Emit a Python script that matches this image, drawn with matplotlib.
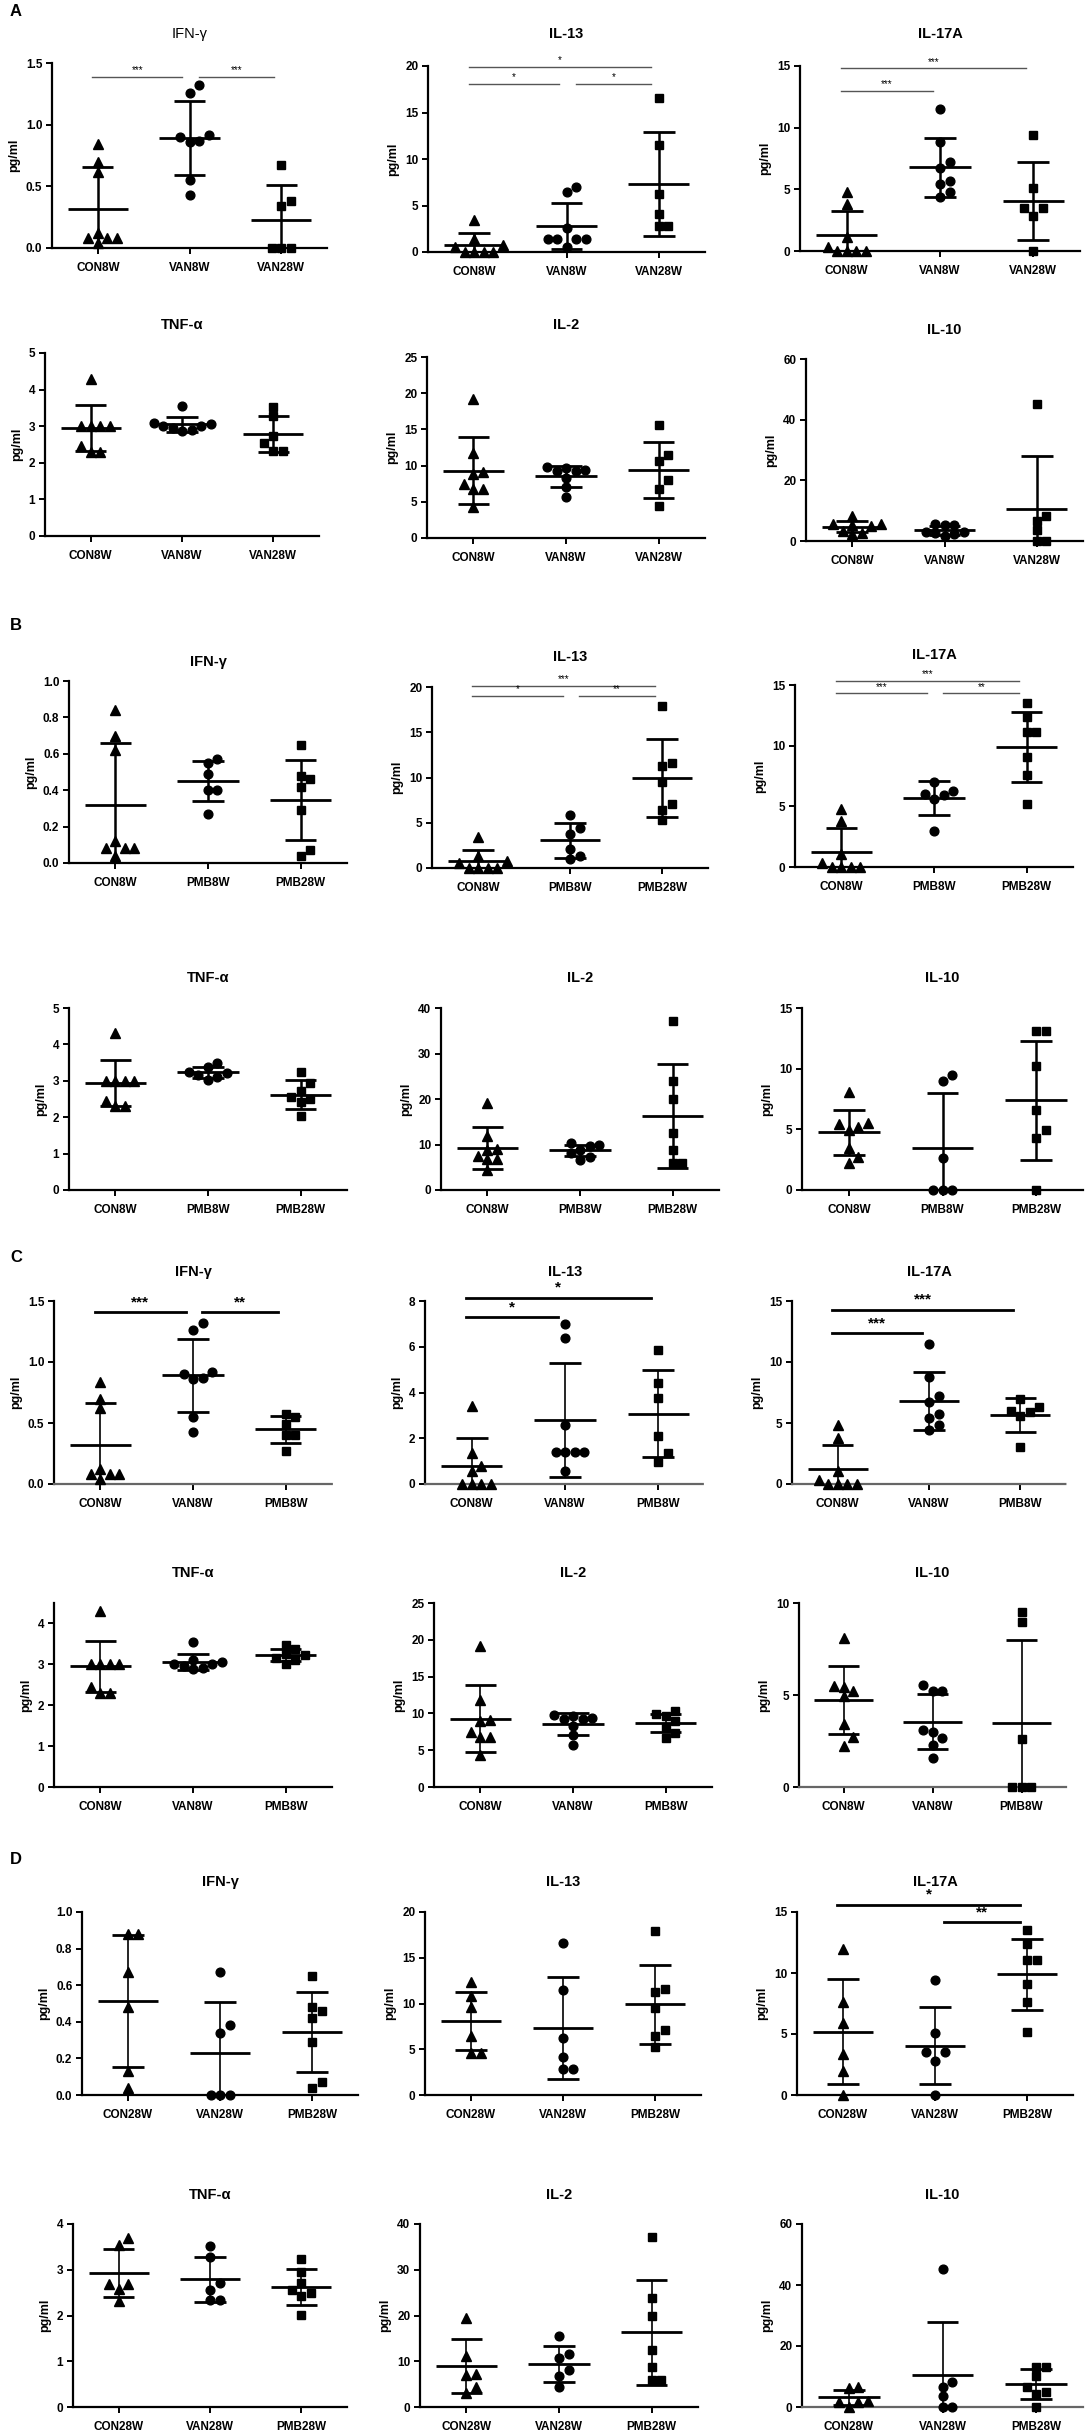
import numpy as np
import matplotlib.pyplot as plt
from matplotlib.ticker import FormatStrFormatter

plt.rcParams['font.family'] = ['Liberation Sans', 'DejaVu Sans']

W, H = 1089, 2436

cytokines = ['IFN-γ', 'IL-13', 'IL-17A', 'TNF-α', 'IL-2', 'IL-10']

# ---- individual values ----
ifng = {
    'CON8W': [0.84, 0.70, 0.62, 0.12, 0.08, 0.04, 0.08, 0.08],
    'VAN8W': [1.32, 1.26, 0.90, 0.92, 0.86, 0.87, 0.55, 0.43],
    'VAN28W': [0.67, 0.38, 0.34, 0.0, 0.0, 0.0],
    'PMB8W': [0.57, 0.55, 0.49, 0.40, 0.40, 0.27],
    'PMB28W': [0.65, 0.48, 0.46, 0.42, 0.29, 0.07, 0.04],
    'CON28W': [0.88, 0.88, 0.67, 0.48, 0.13, 0.04],
}
il13 = {
    'CON8W': [3.4, 1.35, 0.8, 0.55, 0.0, 0.0, 0.0, 0.0],
    'VAN8W': [7.0, 6.4, 2.6, 1.4, 1.4, 1.4, 1.4, 0.55],
    'VAN28W': [16.6, 11.5, 6.2, 4.1, 2.8, 2.8],
    'PMB8W': [5.85, 4.4, 3.75, 2.1, 1.35, 0.97],
    'PMB28W': [17.9, 11.6, 11.3, 9.5, 7.1, 6.4, 5.3],
    'CON28W': [12.3, 10.8, 9.6, 6.4, 4.6, 4.6],
}
il17a = {
    'CON8W': [4.8, 3.8, 1.1, 0.3, 0.0, 0.0, 0.0, 0.0],
    'VAN8W': [11.5, 8.8, 7.2, 6.7, 5.7, 5.4, 4.8, 4.4],
    'VAN28W': [9.4, 5.1, 3.5, 3.5, 2.8, 0.0],
    'PMB8W': [7.0, 6.3, 6.0, 5.9, 5.6, 3.0],
    'PMB28W': [13.5, 12.4, 11.1, 11.1, 9.1, 7.6, 5.2],
    'CON28W': [12.0, 7.6, 5.9, 3.4, 2.0, 0.0],
}
tnfa = {
    'CON8W': [4.3, 3.0, 3.0, 3.0, 3.0, 2.45, 2.3, 2.3],
    'VAN8W': [3.55, 3.1, 3.05, 3.0, 3.0, 2.95, 2.9, 2.88],
    'VAN28W': [3.52, 3.28, 2.72, 2.55, 2.33, 2.33],
    'PMB8W': [3.48, 3.38, 3.25, 3.22, 3.15, 3.1, 3.02],
    'PMB28W': [3.24, 2.95, 2.72, 2.55, 2.5, 2.42, 2.02],
    'CON28W': [3.7, 3.55, 2.69, 2.69, 2.58, 2.32],
}
il2 = {
    'CON8W': [19.2, 11.8, 9.1, 8.9, 7.5, 6.8, 6.8, 4.3],
    'VAN8W': [9.8, 9.6, 9.4, 9.3, 9.2, 8.3, 7.0, 5.7],
    'VAN28W': [15.6, 11.5, 10.7, 8.0, 6.8, 4.4],
    'PMB8W': [10.3, 9.9, 9.6, 8.9, 8.2, 7.3, 6.6],
    'PMB28W': [37.1, 23.9, 19.9, 12.5, 8.8, 6.0, 6.0],
    'CON28W': [19.5, 11.1, 7.3, 7.1, 4.4, 3.1],
}
il10 = {
    'CON8W': [8.1, 5.5, 5.45, 5.2, 4.95, 3.45, 2.7, 2.25],
    'VAN8W': [5.55, 5.2, 5.2, 3.1, 3.0, 2.65, 2.3, 1.55],
    'VAN28W': [45.2, 8.1, 6.6, 3.5, 0.0, 0.0],
    'PMB8W': [9.5, 8.95, 2.6, 0.0, 0.0, 0.0],
    'PMB28W': [13.1, 13.1, 10.2, 6.6, 4.95, 4.25, 0.0],
    'CON28W': [6.5, 6.2, 2.0, 1.8, 1.5, 0.0],
}

# ---- mean and SD as drawn ----
ifng_mean = {'CON8W': 0.32, 'VAN8W': 0.89, 'VAN28W': 0.23, 'PMB8W': 0.45, 'PMB28W': 0.345, 'CON28W': 0.515}
ifng_sd = {'CON8W': 0.34, 'VAN8W': 0.30, 'VAN28W': 0.28, 'PMB8W': 0.11, 'PMB28W': 0.22, 'CON28W': 0.36}
il13_mean = {'CON8W': 0.8, 'VAN8W': 2.8, 'VAN28W': 7.3, 'PMB8W': 3.08, 'PMB28W': 9.9, 'CON28W': 8.1}
il13_sd = {'CON8W': 1.2, 'VAN8W': 2.5, 'VAN28W': 5.6, 'PMB8W': 1.92, 'PMB28W': 4.3, 'CON28W': 3.2}
il17a_mean = {'CON8W': 1.27, 'VAN8W': 6.8, 'VAN28W': 4.05, 'PMB8W': 5.65, 'PMB28W': 9.9, 'CON28W': 5.2}
il17a_sd = {'CON8W': 1.95, 'VAN8W': 2.4, 'VAN28W': 3.15, 'PMB8W': 1.4, 'PMB28W': 2.9, 'CON28W': 4.3}
tnfa_mean = {'CON8W': 2.95, 'VAN8W': 3.05, 'VAN28W': 2.79, 'PMB8W': 3.23, 'PMB28W': 2.62, 'CON28W': 2.93}
tnfa_sd = {'CON8W': 0.63, 'VAN8W': 0.2, 'VAN28W': 0.49, 'PMB8W': 0.14, 'PMB28W': 0.39, 'CON28W': 0.53}
il2_mean = {'CON8W': 9.3, 'VAN8W': 8.5, 'VAN28W': 9.4, 'PMB8W': 8.7, 'PMB28W': 16.3, 'CON28W': 9.0}
il2_sd = {'CON8W': 4.6, 'VAN8W': 1.5, 'VAN28W': 3.9, 'PMB8W': 1.2, 'PMB28W': 11.5, 'CON28W': 5.9}
il10_mean = {'CON8W': 4.75, 'VAN8W': 3.55, 'VAN28W': 10.5, 'PMB8W': 3.5, 'PMB28W': 7.4, 'CON28W': 3.2}
il10_sd = {'CON8W': 1.85, 'VAN8W': 1.5, 'VAN28W': 17.5, 'PMB8W': 4.5, 'PMB28W': 4.9, 'CON28W': 2.5}

values = [ifng, il13, il17a, tnfa, il2, il10]
means = [ifng_mean, il13_mean, il17a_mean, tnfa_mean, il2_mean, il10_mean]
sds = [ifng_sd, il13_sd, il17a_sd, tnfa_sd, il2_sd, il10_sd]

panel_letters = ['A', 'B', 'C', 'D']
panel_groups = {
    'A': ['CON8W', 'VAN8W', 'VAN28W'],
    'B': ['CON8W', 'PMB8W', 'PMB28W'],
    'C': ['CON8W', 'VAN8W', 'PMB8W'],
    'D': ['CON28W', 'VAN28W', 'PMB28W'],
}
# (top of y axis, tick step) per cytokine
panel_yaxis = {
    'A': [(1.5, 0.5), (20, 5), (15, 5), (5, 1), (25, 5), (60, 20)],
    'B': [(1.0, 0.2), (20, 5), (15, 5), (5, 1), (40, 10), (15, 5)],
    'C': [(1.5, 0.5), (8, 2), (15, 5), (4.5, 1), (25, 5), (10, 5)],
    'D': [(1.0, 0.2), (20, 5), (15, 5), (4, 1), (40, 10), (60, 20)],
}
# significance brackets: cytokine index -> (group i, group j, height, label)
panel_sig = {
    'A': {0: [(0, 1, 1.39, '***'), (1, 2, 1.39, '***')],
          1: [(0, 2, 19.9, '*'), (0, 1, 18.1, '*'), (1, 2, 18.1, '*')],
          2: [(0, 2, 14.8, '***'), (0, 1, 13.0, '***')]},
    'B': {1: [(0, 2, 20.1, '***'), (0, 1, 19.0, '*'), (1, 2, 19.0, '**')],
          2: [(0, 2, 15.3, '***'), (0, 1, 14.3, '***'), (1, 2, 14.3, '**')]},
    'C': {0: [(0, 1, 1.41, '***'), (1, 2, 1.41, '**')],
          1: [(0, 2, 8.15, '*'), (0, 1, 7.3, '*')],
          2: [(0, 2, 14.3, '***'), (0, 1, 12.4, '***')]},
    'D': {2: [(0, 2, 15.6, '*'), (1, 2, 14.2, '**')]},
}

# ---- layout in pixels: (left, right, top, zero line) ----
panel_boxes = {
    'A': [(52, 327, 63, 248), (428, 705, 66, 252), (800, 1080, 66, 251),
          (45, 319, 353, 536), (427, 705, 357, 538), (806, 1083, 359, 541)],
    'B': [(69, 347, 681, 863), (432, 708, 687, 868), (795, 1073, 685, 867),
          (69, 347, 1008, 1190), (441, 719, 1008, 1190), (802, 1083, 1008, 1190)],
    'C': [(54, 332, 1301, 1484), (425, 705, 1301, 1484), (792, 1066, 1301, 1484),
          (54, 332, 1603, 1787), (434, 712, 1603, 1787), (799, 1066, 1603, 1787)],
    'D': [(82, 358, 1912, 2095), (425, 701, 1912, 2095), (797, 1073, 1912, 2095),
          (73, 347, 2224, 2407), (420, 698, 2224, 2407), (802, 1083, 2224, 2407)],
}
panel_title_y = {'A': [34, 34, 34, 325, 325, 330], 'B': [662, 657, 655, 978, 978, 978],
                 'C': [1272, 1272, 1272, 1573, 1573, 1573], 'D': [1882, 1882, 1882, 2195, 2195, 2195]}
letter_y = {'A': 12, 'B': 625, 'C': 1257, 'D': 1859}
markers = ['^', 'o', 's']


def swarm(vals, ypx, xpx, d=9.5):
    # simple beeswarm: spread points that would overlap
    vals = np.asarray(vals, float)
    xs = np.zeros(len(vals))
    placed = []
    for k in np.argsort(vals):
        yk = vals[k] * ypx
        for step in [0, 1, -1, 2, -2, 3, -3, 4, -4]:
            xo = step * d
            if all((xo - px) ** 2 + (yk - py) ** 2 >= 0.85 * d * d for px, py in placed):
                break
        placed.append((xo, yk))
        xs[k] = xo / xpx
    return xs


fig = plt.figure(figsize=(W / 100, H / 100), dpi=100)

for letter in panel_letters:
    fig.text(10 / W, 1 - letter_y[letter] / H, letter, fontsize=12, fontweight='bold',
             va='center', ha='left')
    groups = panel_groups[letter]
    for ci, cyt in enumerate(cytokines):
        l, r, t, z = panel_boxes[letter][ci]
        ax = fig.add_axes([l / W, 1 - z / H, (r - l) / W, (z - t) / H])
        top, step = panel_yaxis[letter][ci]
        ax.set_xlim(0.5, 3.5)
        ax.set_ylim(0, top)
        ypx = (z - t) / top
        xpx = (r - l) / 3.0
        thin = letter == 'C' or letter == 'D'
        for gi, g in enumerate(groups):
            v = values[ci][g]
            xs = gi + 1 + swarm(v, ypx, xpx)
            ms = 7 if markers[gi] == '^' else 6.3
            ax.plot(xs, v, linestyle='none', marker=markers[gi], color='black',
                    markersize=ms, clip_on=False, zorder=3)
            m, s = means[ci][g], sds[ci][g]
            x0 = gi + 1
            ax.vlines(x0, m - s, m + s, color='black', lw=1.2 if thin else 1.8, zorder=4)
            ax.hlines([m - s, m + s], x0 - 0.17, x0 + 0.17, color='black', lw=2, zorder=4)
            ax.hlines(m, x0 - 0.33, x0 + 0.33, color='black', lw=2, zorder=4)

        for (i, j, y, lab) in panel_sig.get(letter, {}).get(ci, []):
            x_start = i + 1 - 0.06 if i == 0 else i + 1 + 0.1
            x_end = j + 1 - 0.08
            if thin:
                ax.plot([x_start, x_end], [y, y], color='black', lw=2, clip_on=False)
                ax.text((x_start + x_end) / 2, y + top * 0.015, lab, ha='center', va='bottom',
                        fontsize=11, fontweight='bold')
            else:
                ax.plot([x_start, x_end], [y, y], color='#555555', lw=1, clip_on=False)
                ax.text((x_start + x_end) / 2, y + top * 0.01, lab, ha='center', va='bottom',
                        fontsize=7)

        ax.spines['top'].set_visible(False)
        ax.spines['right'].set_visible(False)
        ax.spines['left'].set_linewidth(1.6)
        ax.spines['bottom'].set_linewidth(1.6)
        if (letter == 'C' and ci < 3) or (letter in ('C', 'D') and ci == 5):
            ax.spines['bottom'].set_linestyle((0, (1, 1)))
            ax.spines['bottom'].set_color('#666666')
        ax.set_yticks(np.arange(0, top + 1e-9, step))
        if step < 1:
            ax.yaxis.set_major_formatter(FormatStrFormatter('%.1f'))
        else:
            ax.yaxis.set_major_formatter(FormatStrFormatter('%d'))
        ax.set_xticks([1, 2, 3])
        ax.set_xticklabels(groups)
        ax.tick_params(axis='both', direction='out', length=4, width=1.4, labelsize=8.5, pad=3)
        ax.tick_params(axis='x', pad=6)
        for lbl in ax.get_xticklabels() + ax.get_yticklabels():
            lbl.set_fontweight('bold')
        ax.set_ylabel('pg/ml', fontsize=9, fontweight='bold', labelpad=4)

        tw = 'normal' if (letter == 'A' and ci == 0) else 'bold'
        fig.text((l + r) / 2 / W, 1 - panel_title_y[letter][ci] / H, cyt, ha='center',
                 va='center', fontsize=10.5, fontweight=tw)

fig.savefig('out.png', dpi=100)
